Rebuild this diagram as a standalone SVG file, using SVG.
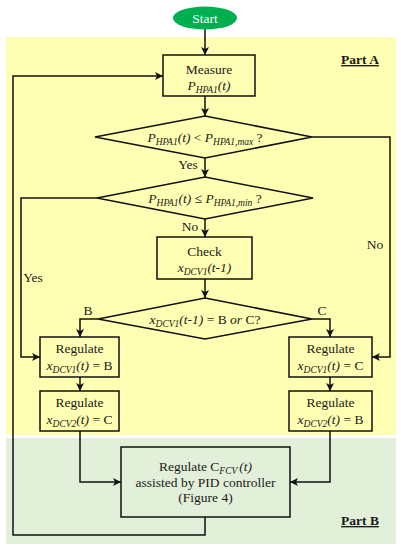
<svg xmlns="http://www.w3.org/2000/svg" width="401" height="550" viewBox="0 0 401 550">
<style>
.t{font-family:"Liberation Serif","DejaVu Serif",serif;font-size:13.5px;fill:#1a1a1a;text-anchor:middle}
.i{font-style:italic}
.s{font-style:italic;font-size:9.5px}
.box{fill:none;stroke:#111;stroke-width:1.5}
.ln{fill:none;stroke:#111;stroke-width:1.5}
.part{font-family:"Liberation Serif","DejaVu Serif",serif;font-size:13.5px;font-weight:bold;text-decoration:underline;fill:#1a1a1a;text-anchor:middle}
</style>
<defs>
<marker id="ah" markerUnits="userSpaceOnUse" markerWidth="9" markerHeight="8" refX="8" refY="4" orient="auto">
<path d="M0,0 L8,4 L0,8 L2,4 z" fill="#111"/>
</marker>
</defs>
<rect x="0" y="0" width="401" height="550" fill="#fff"/>
<rect x="6" y="37" width="390" height="398" fill="#FFFFB3"/>
<rect x="6" y="438" width="390" height="106" fill="#E2F0D9"/>
<text class="part" x="360" y="64">Part A</text>
<text class="part" x="360" y="525">Part B</text>

<g id="connectors" class="ln">
<path d="M205,29 V55" marker-end="url(#ah)"/>
<path d="M205,96 V116" marker-end="url(#ah)"/>
<path d="M205,158 V177" marker-end="url(#ah)"/>
<path d="M205,219 V237" marker-end="url(#ah)"/>
<path d="M205,279 V298" marker-end="url(#ah)"/>
<path d="M98,319 H80 V337" marker-end="url(#ah)"/>
<path d="M312,319 H330 V337" marker-end="url(#ah)"/>
<path d="M312,137 H390 V357 H372" marker-end="url(#ah)"/>
<path d="M97,198 H21 V357 H40" marker-end="url(#ah)"/>
<path d="M80,377 V391" marker-end="url(#ah)"/>
<path d="M330,377 V391" marker-end="url(#ah)"/>
<path d="M80,431 V482 H121" marker-end="url(#ah)"/>
<path d="M330,431 V482 H290" marker-end="url(#ah)"/>
<path d="M205,517 V535 H13 V76 H163" marker-end="url(#ah)"/>
</g>

<g id="labels">
<text class="t" x="188" y="169">Yes</text>
<text class="t" x="190" y="231">No</text>
<text class="t" x="375" y="249">No</text>
<text class="t" x="33" y="282">Yes</text>
<text class="t" x="88" y="315">B</text>
<text class="t" x="322" y="315">C</text>
</g>

<g id="start">
<ellipse cx="205" cy="18" rx="32" ry="11.5" fill="#00B050"/>
<text class="t" x="205" y="22.5" style="fill:#fff">Start</text>
</g>

<g id="measure">
<rect class="box" x="163" y="55" width="92" height="41"/>
<text class="t" x="209" y="74">Measure</text>
<text class="t" x="209" y="90"><tspan class="i">P</tspan><tspan class="s" dy="3">HPA1</tspan><tspan class="i" dy="-3">(t)</tspan></text>
</g>

<g id="d1">
<polygon class="box" points="205,116 312,137 205,158 95,137"/>
<text class="t" x="205" y="142"><tspan class="i">P</tspan><tspan class="s" dy="3">HPA1</tspan><tspan class="i" dy="-3">(t)</tspan> &lt; <tspan class="i">P</tspan><tspan class="s" dy="3">HPA1,max</tspan><tspan dy="-3"> ?</tspan></text>
</g>

<g id="d2">
<polygon class="box" points="205,177 313,198 205,219 97,198"/>
<text class="t" x="205" y="203"><tspan class="i">P</tspan><tspan class="s" dy="3">HPA1</tspan><tspan class="i" dy="-3">(t)</tspan> ≤ <tspan class="i">P</tspan><tspan class="s" dy="3">HPA1,min</tspan><tspan dy="-3"> ?</tspan></text>
</g>

<g id="check">
<rect class="box" x="157" y="237" width="95" height="42"/>
<text class="t" x="204.5" y="256">Check</text>
<text class="t" x="204.5" y="272"><tspan class="i">x</tspan><tspan class="s" dy="3">DCV1</tspan><tspan class="i" dy="-3">(t-1)</tspan></text>
</g>

<g id="d3">
<polygon class="box" points="205,298 312,319 205,339 98,319"/>
<text class="t" x="205" y="324"><tspan class="i">x</tspan><tspan class="s" dy="3">DCV1</tspan><tspan class="i" dy="-3">(t-1)</tspan> = B <tspan class="i">or</tspan> C?</text>
</g>

<g id="regB1">
<rect class="box" x="40" y="337" width="79" height="40"/>
<text class="t" x="79.5" y="353">Regulate</text>
<text class="t" x="79.5" y="370"><tspan class="i">x</tspan><tspan class="s" dy="3">DCV1</tspan><tspan class="i" dy="-3">(t)</tspan> = B</text>
</g>

<g id="regC1">
<rect class="box" x="289" y="337" width="83" height="40"/>
<text class="t" x="330.5" y="353">Regulate</text>
<text class="t" x="330.5" y="370"><tspan class="i">x</tspan><tspan class="s" dy="3">DCV1</tspan><tspan class="i" dy="-3">(t)</tspan> = C</text>
</g>

<g id="regC2">
<rect class="box" x="40" y="391" width="79" height="40"/>
<text class="t" x="79.5" y="407">Regulate</text>
<text class="t" x="79.5" y="424"><tspan class="i">x</tspan><tspan class="s" dy="3">DCV2</tspan><tspan class="i" dy="-3">(t)</tspan> = C</text>
</g>

<g id="regB2">
<rect class="box" x="289" y="391" width="83" height="40"/>
<text class="t" x="330.5" y="407">Regulate</text>
<text class="t" x="330.5" y="424"><tspan class="i">x</tspan><tspan class="s" dy="3">DCV2</tspan><tspan class="i" dy="-3">(t)</tspan> = B</text>
</g>

<g id="pid">
<rect class="box" x="121" y="447" width="169" height="70"/>
<text class="t" x="205.5" y="471">Regulate C<tspan class="s" dy="3">FCV</tspan><tspan class="i" dx="2" dy="-3">(t)</tspan></text>
<text class="t" x="205.5" y="487">assisted by PID controller</text>
<text class="t" x="205.5" y="502">(Figure 4)</text>
</g>
</svg>
